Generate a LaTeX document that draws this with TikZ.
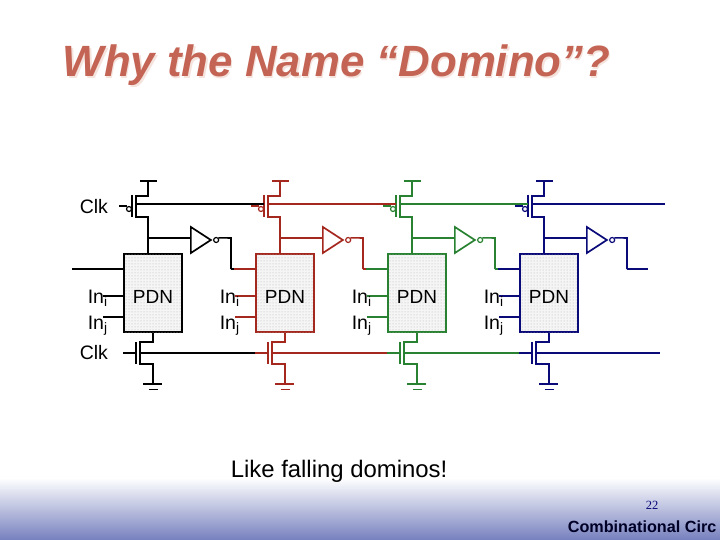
\documentclass[tikz,border=0pt]{standalone}
\usepackage{fontspec}
\setmainfont{Liberation Sans}
\newfontfamily\pagefont{Liberation Serif}
\usetikzlibrary{positioning,patterns,shapes.geometric}
\definecolor{domred}{RGB}{165,40,30}
\definecolor{domgreen}{RGB}{40,130,50}
\definecolor{domblue}{RGB}{10,10,120}
\definecolor{titlered}{RGB}{195,100,85}
\definecolor{titleshade}{RGB}{245,228,222}
\definecolor{footblue}{RGB}{118,128,190}
\tikzset{
  wire/.style = {line width=1.6pt},
  txt/.style = {inner sep=0pt, text=black, font=\fontsize{19.5}{22}\selectfont, anchor=base west},
  pdnbox/.style = {draw, line width=1.7pt, inner sep=0pt, minimum width=58pt, minimum height=78pt,
    text height=21pt, text=black, fill=black!4, postaction={pattern=dots, pattern color=black!30},
    font=\fontsize{19}{22}\selectfont},
  invtri/.style = {draw, line width=1.7pt, isosceles triangle, isosceles triangle stretches,
    minimum width=26pt, minimum height=20pt, inner sep=0pt, anchor=lower side},
  bubble/.style = {draw, line width=1.2pt, circle, inner sep=0pt, minimum size=5pt}
}

\begin{document}
\begin{tikzpicture}[x=1pt,y=-1pt,wire]
  \useasboundingbox (0,0) rectangle (720,540);
  \shade[top color=white, bottom color=footblue] (0,478) rectangle (720,540);
  \node[titleshade, anchor=base west, inner sep=0pt, font=\fontsize{43.800}{48}\bfseries\itshape\selectfont] (shade) at (63.200,78.200) {Why the Name “Domino”?};
  \node[titlered, anchor=base west, inner sep=0pt, font=\fontsize{43.800}{48}\bfseries\itshape\selectfont] (title) at (62,77) {Why the Name “Domino”?};
  \node[txt] (clktop) at (79,214) {Clk};
  \node[txt] (clkbot) at (79,359) {Clk};
  % one stage
  \foreach \i/\col/\off in {1/black/0,2/domred/132,3/domgreen/264,4/domblue/396}{
    \begin{scope}[xshift=\off pt, color=\col]
      \node[pdnbox] (pdn\i) at (153,293) {PDN};
      \node[invtri] (inv\i) at (190,240) {};
      \node[bubble, right=0pt of inv\i.apex] (bub\i) {};
      % pull-up
      \draw (140,181) -- (157,181);
      \draw (148,181) coordinate (vdd\i) -- (148,196) -- (136,196) -- (136,217) -- (148,217) -- (148,254);
      \draw (132,195) -- (132,217);
      \draw (119,206) -- (127,206);
      \node[bubble] (gbub\i) at (129,209) {};
      \coordinate (cka\i) at (136,204);
      \coordinate (gta\i) at (132,204);
      % inverter
      \coordinate (fork\i) at (148,238);
      \draw (fork\i) -- (fork\i -| inv\i.lower side);
      \coordinate (out\i) at (231,269);
      \draw (bub\i.north east) -- (231,238) -- (out\i);
      % inputs
      \coordinate (in\i) at (102,269);
      \coordinate (ini\i) at (103,296);
      \coordinate (inj\i) at (103,317);
      \draw (in\i) -- (in\i -| pdn\i.west);
      \draw (ini\i) -- (ini\i -| pdn\i.west);
      \draw (inj\i) -- (inj\i -| pdn\i.west);
      \node[txt] (lbli\i) at (87,303) {In\textsubscript{i}};
      \node[txt] (lblj\i) at (87,329) {In\textsubscript{j}};
      % pull-down
      \draw (pdn\i.south) -- (153,342) -- (140,342) -- (140,364) -- (153,364) -- (153,384) coordinate (gnd\i);
      \draw (136,342) -- (136,364);
      \coordinate (gtb\i) at (123,353);
      \coordinate (ckb\i) at (140,353);
      \draw (gtb\i) -- (136,353);
      \draw (143,384) -- (162,384);
      \draw (149,389.500) -- (158,389.500);
    \end{scope}
  }
  % clock and output wires
  \foreach \i/\j/\col in {1/2/black,2/3/domred,3/4/domgreen}{
    \draw[\col] (cka\i) -- (gta\j);
    \draw[\col] (ckb\i) -- (gtb\j);
    \draw[\col] (out\i) -- (in\j);
  }
  \coordinate (endtop) at (665,204);
  \coordinate (endbot) at (660,353);
  \coordinate (endout) at (648,269);
  \coordinate (startin) at (72,269);
  \draw[domblue] (cka4) -- (endtop);
  \draw[domblue] (ckb4) -- (endbot);
  \draw[domblue] (out4) -- (endout);
  \draw (startin) -- (in1);
  \node[txt, font=\fontsize{23.900}{26}\selectfont] (like) at (230,477) {Like falling dominos!};
  \node[anchor=base, inner sep=0pt, domblue, font=\fontsize{12.500}{15}\pagefont\selectfont] (page) at (652,509) {22};
  \node[txt, font=\fontsize{16.200}{20}\bfseries\selectfont, text=black!85!blue] (foot) at (567,532) {Combinational Circ};
\end{tikzpicture}
\end{document}
